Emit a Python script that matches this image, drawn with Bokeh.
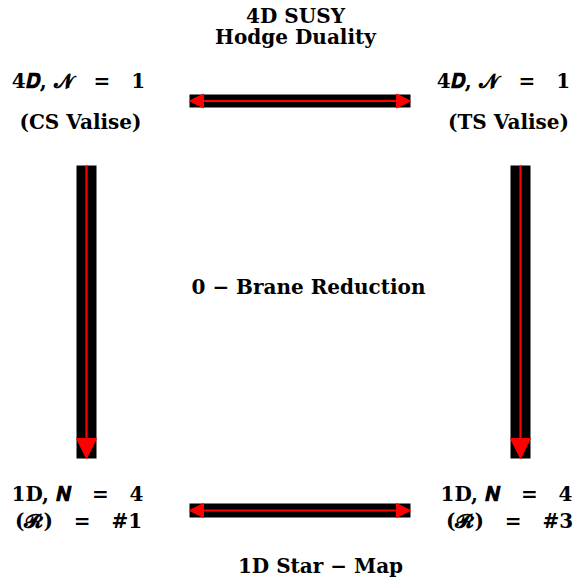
from bokeh.plotting import figure
from bokeh.models import Range1d, Arrow, NormalHead, ColumnDataSource
from bokeh.core.properties import value
from bokeh.embed import file_html
from bokeh.resources import INLINE

NB = "\u00a0"
EQ = NB + NB + NB + "=" + NB + NB + NB

# Diagram texts
labels = ["4D SUSY", "Hodge Duality",
          "4𝑫, 𝓝" + EQ + "1", "(CS Valise)",
          "4𝑫, 𝓝" + EQ + "1", "(TS Valise)",
          "0 − Brane Reduction",
          "1D, 𝑵" + EQ + "4", "(𝓡)" + EQ + "#1",
          "1D, 𝑵" + EQ + "4", "(𝓡)" + EQ + "#3",
          "1D Star − Map"]
label_x = [295, 295, 78, 80, 503, 508, 308, 77, 78, 506, 509, 320]
label_y = [15, 36, 80, 121, 80, 121, 286, 493, 520, 493, 520, 565]

# Black bars (left, right, top, bottom) in page pixels
bar_left = [189, 76, 510, 189]
bar_right = [410, 96, 530, 410]
bar_top = [94, 165, 165, 503]
bar_bottom = [107, 458, 458, 517]

# Red arrows: start -> end, and whether double-headed
arr_x0 = [189, 86, 520, 189]
arr_y0 = [100.5, 165, 165, 510]
arr_x1 = [410, 86, 520, 410]
arr_y1 = [100.5, 458, 458, 510]
arr_both = [True, False, False, True]
arr_head = [14, 20, 20, 14]

p = figure(width=576, height=577, output_backend="svg", toolbar_location=None,
           x_range=Range1d(0, 576), y_range=Range1d(577, 0),
           min_border=0)
p.axis.visible = False
p.grid.visible = False
p.outline_line_color = None

p.quad(left=bar_left, right=bar_right, top=bar_top, bottom=bar_bottom,
       fill_color="black", line_color=None)

for x0, y0, x1, y1, both, hs in zip(arr_x0, arr_y0, arr_x1, arr_y1, arr_both, arr_head):
    p.add_layout(Arrow(
        x_start=x0, y_start=y0, x_end=x1, y_end=y1,
        line_color="red", line_width=2.2,
        end=NormalHead(size=hs, fill_color="red", line_color="red", line_width=1),
        start=NormalHead(size=hs, fill_color="red", line_color="red", line_width=1) if both else None,
    ))

src = ColumnDataSource(dict(x=label_x, y=label_y, t=labels))
p.text(x="x", y="y", text="t", source=src, text_align="center",
       text_baseline="middle", text_font=value("DejaVu Serif"),
       text_font_style="bold", text_font_size="20px", text_color="black")

open("out.html", "w").write(file_html(p, INLINE))
